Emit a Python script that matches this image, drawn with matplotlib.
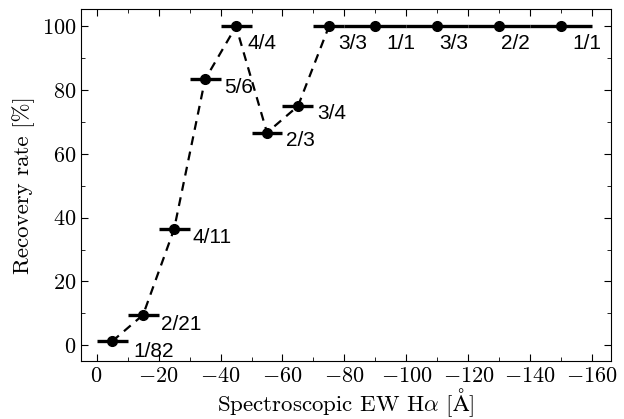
import numpy as np
import matplotlib
matplotlib.use("Agg")
import matplotlib.pyplot as plt
from matplotlib.ticker import MultipleLocator

plt.rcParams["font.family"] = "serif"
plt.rcParams["font.serif"] = ["cmr10"]
plt.rcParams["mathtext.fontset"] = "cm"
plt.rcParams["axes.formatter.use_mathtext"] = True

# ------------------------------------------------------------
# Data
# ------------------------------------------------------------
ew_center = np.array([-5, -15, -25, -35, -45, -55, -65, -75, -90, -110, -130, -150])
ew_halfwidth = np.array([5, 5, 5, 5, 5, 5, 5, 5, 10, 10, 10, 10])
n_recovered = np.array([1, 2, 4, 5, 4, 2, 3, 3, 1, 3, 2, 1])
n_total = np.array([82, 21, 11, 6, 4, 3, 4, 3, 1, 3, 2, 1])
rate = 100.0 * n_recovered / n_total
n_dashed = 8

# label offsets in points (right, down)
label_offset = [(15, -7), (13, -7), (13, -6), (14, -6), (8, -12), (14, -6),
                (14, -5), (7, -12), (8, -12), (1, -12), (1.5, -12), (8, -12)]

# ------------------------------------------------------------
# Plot
# ------------------------------------------------------------
fig = plt.figure(figsize=(6.24, 4.19), dpi=100)
ax = fig.add_axes([0.13, 0.138, 0.849, 0.841])

ax.plot(ew_center[:n_dashed], rate[:n_dashed], color="k", ls="--",
        lw=1.6, dashes=(4, 3))
ax.errorbar(ew_center, rate, xerr=ew_halfwidth, fmt="o", color="k",
            ms=7, elinewidth=2.4, capsize=0)

for x, y, k, n, off in zip(ew_center, rate, n_recovered, n_total, label_offset):
    ax.annotate(f"{k}/{n}", (x, y), xytext=off, textcoords="offset points",
                ha="left", va="center", fontsize=15, family="Liberation Sans")

ax.set_xlim(5, -166)
ax.set_ylim(-5, 105.5)
ax.xaxis.set_major_locator(MultipleLocator(20))
ax.xaxis.set_minor_locator(MultipleLocator(10))
ax.yaxis.set_major_locator(MultipleLocator(20))
ax.yaxis.set_minor_locator(MultipleLocator(10))
ax.tick_params(which="both", direction="in", top=True, right=True, labelsize=16)
ax.tick_params(which="major", length=5)
ax.tick_params(which="minor", length=3)
ax.tick_params(axis="x", pad=4)

ax.set_xlabel(r"Spectroscopic EW H$\alpha$ [$\mathrm{\AA}$]", fontsize=16.5,
              labelpad=0)
ax.set_ylabel("Recovery rate [%]", fontsize=16.5, labelpad=5)

fig.savefig("out.png", dpi=100)
